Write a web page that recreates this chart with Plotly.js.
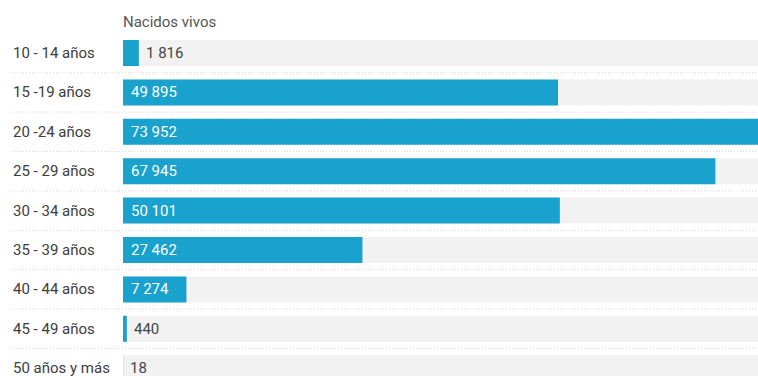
<!DOCTYPE html>
<html><head><meta charset="utf-8">
<script src="https://cdn.plot.ly/plotly-3.0.1.min.js"></script>
<style>html,body{margin:0;padding:0;background:#fff;overflow:hidden}</style>
</head><body>
<div id="chart" style="width:758px;height:376px"></div>
<script>
const categories = ["10 - 14 años","15 -19 años","20 -24 años","25 - 29 años","30 - 34 años","35 - 39 años","40 - 44 años","45 - 49 años","50 años y más"];
const values = [1816, 49895, 73952, 67945, 50101, 27462, 7274, 440, 18];
const columnTitle = "Nacidos vivos";
const axisMax = 72830;

const idx = categories.map((_, i) => i);
const fmt = v => String(v).replace(/\B(?=(\d{3})+(?!\d))/g, " ");
const ML = 123, W = 758, PW = W - ML;
const px = p => (p - ML) / PW;

const bgTrace = {type:'bar', orientation:'h', y: idx, x: idx.map(() => axisMax), width:0.66,
  marker:{color:'#f2f2f2'}, hoverinfo:'skip', showlegend:false};
const mainTrace = {type:'bar', orientation:'h', y: idx, x: values, width:0.66,
  marker:{color:'#19a2cd'}, showlegend:false};

const annotations = [];
categories.forEach((c, i) => {
  annotations.push({xref:'paper', yref:'y', x: px(11), y: i, text: c, showarrow:false,
    xanchor:'left', yanchor:'middle', font:{family:'Roboto', size:15, color:'#3c3c3c'}});
  const inside = values[i] > 5000;
  annotations.push({xref:'x', yref:'y', x: inside ? 0 : values[i], y: i, text: fmt(values[i]),
    showarrow:false, xanchor:'left', yanchor:'middle', xshift: inside ? 6 : 5,
    font:{family:'Roboto', size:15, color: inside ? '#ffffff' : '#444'}});
});
annotations.push({xref:'paper', yref:'paper', x: 0, y: 1, yshift: -22, xshift: -2, text: columnTitle, showarrow:false,
  xanchor:'left', yanchor:'middle', font:{family:'Roboto', size:15, color:'#555'}});

const shapes = idx.slice(0, -1).map(i => ({type:'line', xref:'paper', yref:'y', x0: px(11), x1: 1,
  y0: i + 0.5, y1: i + 0.5, line:{color:'#d6d6d6', width:1, dash:'1px,2px'}}));

const rowPx = 39.4, firstPx = 53;
const layout = {
  width: 758, height: 376, margin:{l:ML, r:0, t:0, b:0},
  paper_bgcolor:'#fff', plot_bgcolor:'#fff', barmode:'overlay',
  xaxis:{range:[0, axisMax], visible:false, fixedrange:true},
  yaxis:{range:[(376 - firstPx)/rowPx, -firstPx/rowPx], visible:false, fixedrange:true},
  annotations, shapes
};
Plotly.newPlot('chart', [bgTrace, mainTrace], layout, {displayModeBar:false, staticPlot:true});
</script>
</body></html>
